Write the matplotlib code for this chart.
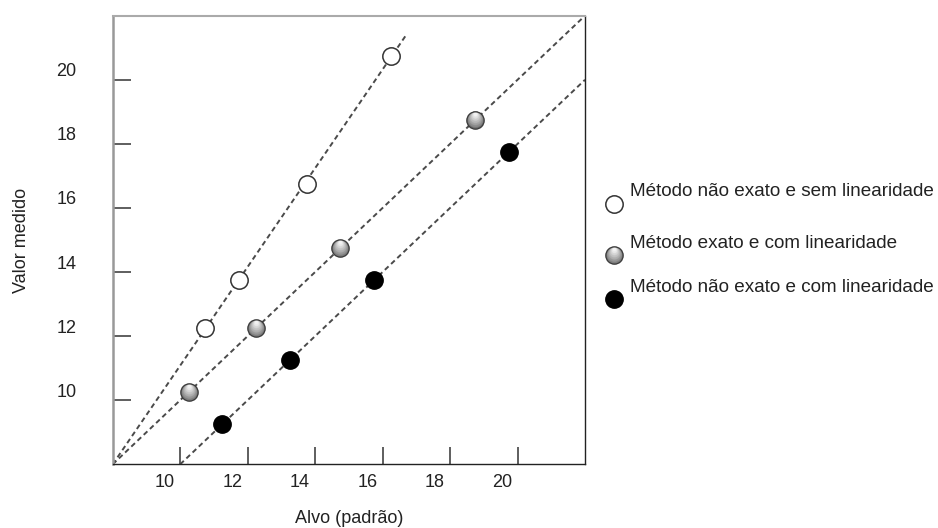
import numpy as np
import matplotlib
matplotlib.use("Agg")
import matplotlib.pyplot as plt
from matplotlib import transforms as mtransforms
from matplotlib.colors import to_rgb

plt.rcParams['font.family'] = ['Liberation Sans', 'DejaVu Sans']

# ---------------- data ----------------
series_labels = ["Método não exato e sem linearidade",
                 "Método exato e com linearidade",
                 "Método não exato e com linearidade"]
white_x = [10.75, 11.75, 13.75, 16.25]
white_y = [12.25, 13.75, 16.75, 20.75]
grey_x = [10.25, 12.25, 14.75, 18.75]
grey_y = [10.25, 12.25, 14.75, 18.75]
black_x = [11.25, 13.25, 15.75, 19.75]
black_y = [9.25, 11.25, 13.75, 17.75]
# fitted reference lines (start/end in data units)
white_line_x = [8.0, 16.7]
white_line_y = [8.0, 21.4]
grey_line_x = [8.0, 22.0]
grey_line_y = [8.0, 22.0]
black_line_x = [10.0, 22.0]
black_line_y = [8.0, 20.0]
x_ticks = [10, 12, 14, 16, 18, 20]
y_ticks = [10, 12, 14, 16, 18, 20]
x_label = "Alvo (padrão)"
y_label = "Valor medido"

W, H = 938, 528
fig = plt.figure(figsize=(W / 100, H / 100), dpi=100)
ax = fig.add_axes([112.7 / W, 1 - 464.3 / H, (585 - 112.7) / W, (464.3 - 15.7) / H])
ax.set_xlim(8, 22)
ax.set_ylim(8, 22)

line_kw = dict(color='#4a4a4a', lw=1.4, linestyle=(0, (2.6, 1.8)), zorder=2)
ax.plot(white_line_x, white_line_y, **line_kw)
ax.plot(grey_line_x, grey_line_y, **line_kw)
ax.plot(black_line_x, black_line_y, **line_kw)

MS = 12.5


def grad_markers(a, xs, ys, ms, zorder=5):
    base = np.array(to_rgb('#6a6a6a'))
    top = np.array(to_rgb('#f2f2f2'))
    a.plot(xs, ys, 'o', ms=ms, mfc=tuple(base), mec='none', zorder=zorder)
    n = 12
    for k in range(1, n + 1):
        f = k / n
        s = ms * (1 - 0.8 * f)
        dy = (ms - s) / 2 * 0.85
        c = tuple(base + (top - base) * f ** 0.8)
        tr = mtransforms.offset_copy(a.transData, fig=fig, x=0, y=dy, units='points')
        a.plot(xs, ys, 'o', ms=s, mfc=c, mec='none', transform=tr, zorder=zorder)
    a.plot(xs, ys, 'o', ms=ms, mfc='none', mec='#3a3a3a', mew=0.9, zorder=zorder + 0.5)


ax.plot(white_x, white_y, 'o', ms=MS, mfc='white', mec='#333333', mew=1.1, zorder=5)
grad_markers(ax, grey_x, grey_y, MS)
ax.plot(black_x, black_y, 'o', ms=MS, mfc='black', mec='black', zorder=5)

# spines
ax.spines['left'].set_color('#999999')
ax.spines['left'].set_linewidth(1.8)
ax.spines['top'].set_color('#aaaaaa')
ax.spines['top'].set_linewidth(1.5)
ax.spines['right'].set_color('#222222')
ax.spines['right'].set_linewidth(1.0)
ax.spines['bottom'].set_color('#222222')
ax.spines['bottom'].set_linewidth(1.0)

FS = 13
ax.set_xticks(x_ticks)
ax.set_yticks(y_ticks)
ax.tick_params(axis='x', direction='in', length=12, width=1.1, color='#333333',
               labelsize=FS, labelcolor='#222222', pad=7)
ax.tick_params(axis='y', direction='in', length=13, width=1.1, color='#333333',
               labelsize=FS, labelcolor='#222222', pad=26)
for lab in ax.get_xticklabels():
    lab.set_transform(lab.get_transform() +
                      mtransforms.ScaledTranslation(-15 / 100, 0, fig.dpi_scale_trans))
for lab in ax.get_yticklabels():
    lab.set_transform(lab.get_transform() +
                      mtransforms.ScaledTranslation(0, 10 / 100, fig.dpi_scale_trans))

ax.set_xlabel(x_label, fontsize=FS, color='#222222', labelpad=14)
ax.set_ylabel(y_label, fontsize=FS, color='#222222', labelpad=19)

# legend (manual layout in pixel space)
lg = fig.add_axes([0, 0, 1, 1], facecolor='none')
lg.set_xlim(0, W)
lg.set_ylim(H, 0)
lg.axis('off')
rows_y = [204, 255, 299]
mx = 614
lg.plot([mx], [rows_y[0]], 'o', ms=MS, mfc='white', mec='#333333', mew=1.1)
grad_markers(lg, [mx], [rows_y[1]], MS)
lg.plot([mx], [rows_y[2]], 'o', ms=MS, mfc='black', mec='black')
for ry, txt in zip(rows_y, series_labels):
    lg.text(630, ry - 12, txt, fontsize=13.6, va='center', ha='left', color='#222222')

fig.savefig('out.png', dpi=100)
